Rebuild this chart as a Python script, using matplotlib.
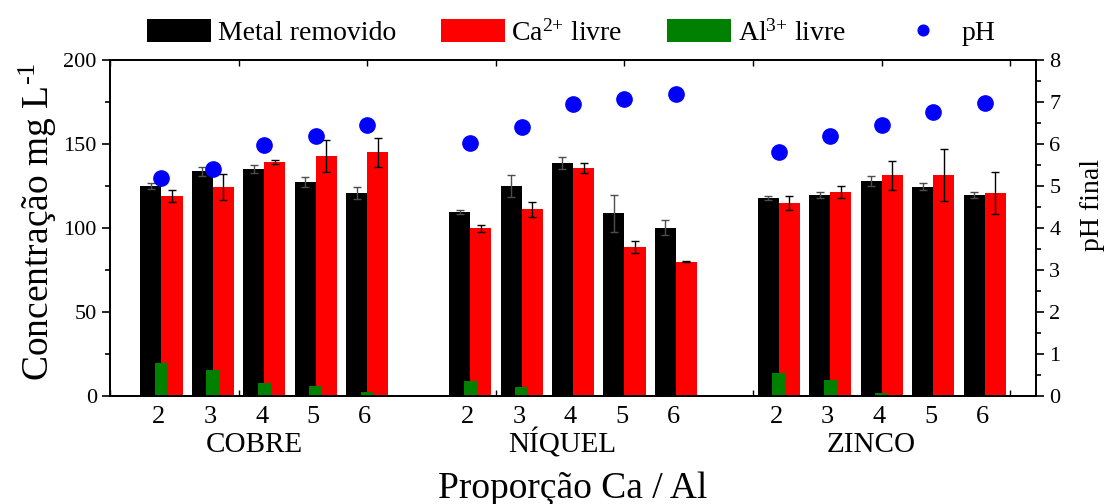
#!/usr/bin/env python

import numpy as np
import matplotlib
matplotlib.use("Agg")
import matplotlib.pyplot as plt
from matplotlib.ticker import MultipleLocator

# Metals and Ca/Al ratios of the hydrotalcites
METALS = ["COBRE", "NÍQUEL", "ZINCO"]
RATIOS = [2, 3, 4, 5, 6]

# Concentrations (mg/L), one row per metal
METAL_REMOVED = [
    [125.0, 133.7, 135.1, 127.4, 120.6],
    [109.7, 125.0, 138.5, 108.7, 100.2],
    [117.7, 119.8, 127.8, 124.6, 119.4],
]
METAL_REMOVED_ERR = [
    [2.0, 2.8, 2.4, 3.0, 3.6],
    [1.2, 6.4, 3.6, 11.0, 4.6],
    [1.2, 1.8, 3.0, 2.0, 1.8],
]
CA_FREE = [
    [119.0, 124.4, 139.1, 142.9, 145.0],
    [99.8, 111.1, 135.7, 88.7, 80.0],
    [114.9, 121.4, 131.5, 131.5, 120.8],
]
CA_FREE_ERR = [
    [3.5, 8.0, 1.2, 9.3, 8.8],
    [2.0, 4.4, 2.8, 3.6, 0.3],
    [4.3, 3.4, 8.6, 15.3, 12.5],
]
AL_FREE = [
    [19.4, 15.5, 7.9, 6.0, 2.4],
    [9.1, 5.6, 0.5, 0.3, 0.3],
    [13.5, 9.5, 2.0, 0.5, 0.3],
]
# Final pH
PH_FINAL = [
    [5.2, 5.4, 5.98, 6.2, 6.45],
    [6.02, 6.4, 6.94, 7.06, 7.18],
    [5.8, 6.2, 6.45, 6.76, 6.98],
]

plt.rcParams["font.family"] = ["Liberation Serif", "DejaVu Serif"]
plt.rcParams["mathtext.fontset"] = "custom"
plt.rcParams["mathtext.rm"] = "Liberation Serif"
plt.rcParams["mathtext.it"] = "Liberation Serif:italic"

BAR_W = 0.41
AL_W = 0.25
GROUP_GAP = 6


def main():
    fig = plt.figure(figsize=(11.07, 5.04), dpi=100)
    ax = fig.add_axes([0.0994, 0.2143, 0.8365, 0.6667])

    for i, metal in enumerate(METALS):
        pos = np.array(RATIOS) - 1 + i * GROUP_GAP
        ax.bar(pos - BAR_W / 2, METAL_REMOVED[i], BAR_W, color="black",
               label="Metal removido" if i == 0 else None, zorder=2)
        ax.bar(pos + BAR_W / 2, CA_FREE[i], BAR_W, color="red",
               label=r"Ca$^{2{+}}$ livre" if i == 0 else None, zorder=2)
        ax.bar(pos, AL_FREE[i], AL_W, color="green",
               label=r"Al$^{3{+}}$ livre" if i == 0 else None, zorder=3)
        ax.errorbar(pos - BAR_W / 2, METAL_REMOVED[i], yerr=METAL_REMOVED_ERR[i],
                    fmt="none", ecolor="0.3", elinewidth=1, capsize=3, capthick=1, zorder=4)
        ax.errorbar(pos + BAR_W / 2, CA_FREE[i], yerr=CA_FREE_ERR[i],
                    fmt="none", ecolor="black", elinewidth=1, capsize=3, capthick=1, zorder=4)

        # ratio labels under each pair and the metal name below
        for p, r in zip(pos, RATIOS):
            ax.text(p - 0.05, -16, str(r), ha="center", va="baseline", fontsize=19,
                    clip_on=False)
        ax.text(pos.mean() - 0.2, -33.5, metal, ha="center", va="baseline",
                fontsize=21, clip_on=False)

    ax.set_xlim(0, 18)
    ax.set_ylim(0, 200)
    ax.yaxis.set_major_locator(MultipleLocator(50))
    ax.yaxis.set_minor_locator(MultipleLocator(25))
    ax.xaxis.set_major_locator(MultipleLocator(2.5))
    ax.tick_params(axis="x", which="both", direction="in", top=True, bottom=True,
                   labelbottom=False, length=4, width=1)
    ax.tick_params(axis="y", which="major", direction="out", length=6, width=1.2,
                   labelsize=16)
    ax.tick_params(axis="y", which="minor", direction="out", length=3.5, width=1.2)

    ax2 = ax.twinx()
    for i in range(len(METALS)):
        pos = np.array(RATIOS) - 1 + i * GROUP_GAP
        ax2.plot(pos, PH_FINAL[i], "o", color="blue", ms=11, mec="blue",
                 label="pH" if i == 0 else None, zorder=5)
    ax2.set_ylim(0, 8)
    ax2.yaxis.set_major_locator(MultipleLocator(1))
    ax2.yaxis.set_minor_locator(MultipleLocator(0.5))
    ax2.tick_params(axis="y", which="major", direction="out", length=6, width=1.2,
                    labelsize=16)
    ax2.tick_params(axis="y", which="minor", direction="out", length=3.5, width=1.2)

    for a in (ax, ax2):
        for sp in a.spines.values():
            sp.set_linewidth(1.3)

    # axis titles
    fig.text(0.0343, 0.56, r"Concentração mg L$^{\text{-1}}$", rotation=90,
             ha="center", va="center", fontsize=27)
    fig.text(0.9865, 0.593, "pH final", rotation=90, ha="center", va="center",
             fontsize=20)
    fig.text(0.5176, 0.012, "Proporção Ca / Al", ha="center", va="baseline",
             fontsize=27)

    h1, l1 = ax.get_legend_handles_labels()
    h2, l2 = ax2.get_legend_handles_labels()
    fig.legend(h1 + h2, l1 + l2, loc="center", bbox_to_anchor=(0.516, 0.935),
               ncol=4, frameon=False, fontsize=20, handlelength=2.3,
               handleheight=0.9, handletextpad=0.25, columnspacing=1.6,
               markerscale=0.7)

    fig.savefig("out.png", dpi=100)


main()
